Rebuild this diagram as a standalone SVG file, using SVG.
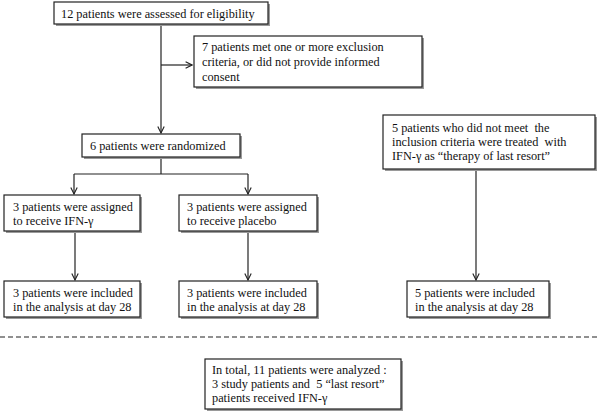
<svg xmlns="http://www.w3.org/2000/svg" width="600" height="415" viewBox="0 0 600 415">
<style>
  .box { fill: #ffffff; stroke: #222; stroke-width: 1.2; }
  .shadow { fill: #9a9a9a; }
  .t { font-family: "Liberation Serif", "Times New Roman", serif; font-size: 12.3px; fill: #111; }
  .ln { fill: none; stroke: #222; stroke-width: 1.2; }
</style>
<defs>
  <marker id="ah" viewBox="0 0 10 10" refX="9" refY="5" markerWidth="8" markerHeight="8" markerUnits="userSpaceOnUse" orient="auto">
    <path d="M1,1 L9,5 L1,9" fill="none" stroke="#222" stroke-width="1.4"/>
  </marker>
</defs>
<rect width="600" height="415" fill="#ffffff"/>
<g id="connectors">
  <line class="ln" x1="161" y1="24" x2="161" y2="133" marker-end="url(#ah)"/>
  <line class="ln" x1="161" y1="65" x2="192" y2="65" marker-end="url(#ah)"/>
  <line class="ln" x1="161" y1="157" x2="161" y2="174"/>
  <line class="ln" x1="74" y1="174" x2="248" y2="174"/>
  <line class="ln" x1="74" y1="174" x2="74" y2="194" marker-end="url(#ah)"/>
  <line class="ln" x1="248" y1="174" x2="248" y2="194" marker-end="url(#ah)"/>
  <line class="ln" x1="75" y1="231" x2="75" y2="280" marker-end="url(#ah)"/>
  <line class="ln" x1="248" y1="231" x2="248" y2="280" marker-end="url(#ah)"/>
  <line class="ln" x1="476" y1="169" x2="476" y2="280" marker-end="url(#ah)"/>
  <line class="ln" x1="0" y1="337" x2="600" y2="337" stroke-dasharray="5 3"/>
</g>
<g id="n1">
  <rect class="shadow" x="56" y="4" width="214" height="22"/>
  <rect class="box" x="54" y="2" width="214" height="22"/>
  <text class="t" x="61" y="18">12 patients were assessed for eligibility</text>
</g>
<g id="n2">
  <rect class="shadow" x="196" y="38" width="228" height="51"/>
  <rect class="box" x="194" y="36" width="228" height="51"/>
  <text class="t" x="202" y="51">7 patients met one or more exclusion</text>
  <text class="t" x="202" y="66">criteria, or did not provide informed</text>
  <text class="t" x="202" y="81">consent</text>
</g>
<g id="n3">
  <rect class="shadow" x="84" y="136" width="158" height="23"/>
  <rect class="box" x="82" y="134" width="158" height="23"/>
  <text class="t" x="90" y="150">6 patients were randomized</text>
</g>
<g id="n4">
  <rect class="shadow" x="6" y="197" width="136" height="36"/>
  <rect class="box" x="4" y="195" width="136" height="36"/>
  <text class="t" x="13" y="211">3 patients were assigned</text>
  <text class="t" x="13" y="225">to receive IFN-γ</text>
</g>
<g id="n5">
  <rect class="shadow" x="181" y="197" width="138" height="36"/>
  <rect class="box" x="179" y="195" width="138" height="36"/>
  <text class="t" x="187" y="211">3 patients were assigned</text>
  <text class="t" x="187" y="225">to receive placebo</text>
</g>
<g id="n6">
  <rect class="shadow" x="385" y="117" width="212" height="54"/>
  <rect class="box" x="383" y="115" width="212" height="54"/>
  <text class="t" x="392" y="132" xml:space="preserve">5 patients who did not meet  the</text>
  <text class="t" x="392" y="146" xml:space="preserve">inclusion criteria were treated  with</text>
  <text class="t" x="392" y="160">IFN-γ as “therapy of last resort”</text>
</g>
<g id="n7">
  <rect class="shadow" x="6" y="283" width="136" height="36"/>
  <rect class="box" x="4" y="281" width="136" height="36"/>
  <text class="t" x="13" y="297">3 patients were included</text>
  <text class="t" x="13" y="311">in the analysis at day 28</text>
</g>
<g id="n8">
  <rect class="shadow" x="181" y="283" width="138" height="36"/>
  <rect class="box" x="179" y="281" width="138" height="36"/>
  <text class="t" x="187" y="297">3 patients were included</text>
  <text class="t" x="187" y="311">in the analysis at day 28</text>
</g>
<g id="n9">
  <rect class="shadow" x="409" y="283" width="142" height="36"/>
  <rect class="box" x="407" y="281" width="142" height="36"/>
  <text class="t" x="415" y="297">5 patients were included</text>
  <text class="t" x="415" y="311">in the analysis at day 28</text>
</g>
<g id="n10">
  <rect class="shadow" x="207" y="361" width="196" height="50"/>
  <rect class="box" x="205" y="359" width="196" height="50"/>
  <text class="t" x="212" y="374">In total, 11 patients were analyzed :</text>
  <text class="t" x="212" y="388" xml:space="preserve">3 study patients and  5 “last resort”</text>
  <text class="t" x="212" y="402">patients received IFN-γ</text>
</g>
</svg>
